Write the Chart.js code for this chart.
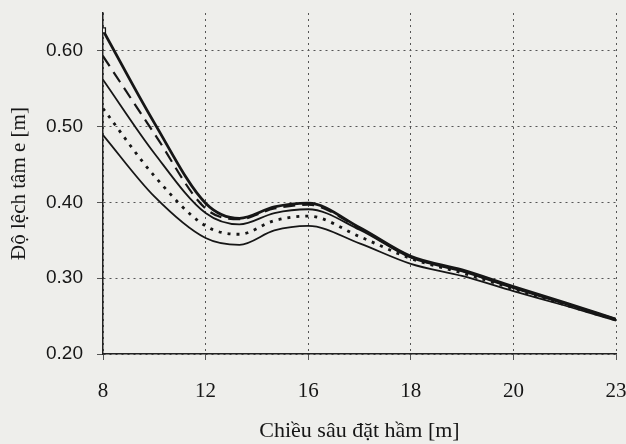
<!DOCTYPE html>
<html>
<head>
<meta charset="utf-8">
<script src="https://cdn.jsdelivr.net/npm/chart.js@4/dist/chart.umd.min.js"></script>
<style>
  html, body { margin: 0; padding: 0; background: #eeeeeb; }
</style>
</head>
<body>
<canvas id="chart" width="626" height="444"></canvas>
<script>
// Depth categories, drawn at equal spacing on the x axis
const depthLabels = ['8', '12', '16', '18', '20', '23'];
// Where each reading sits along the axis, in category steps (0 = 8 m, 5 = 23 m)
const samplePos = [0, 0.5, 1, 1.33, 1.67, 2, 2.5, 3, 3.5, 4, 4.5, 5];
const yTicks = [0.2, 0.3, 0.4, 0.5, 0.6];

// Eccentricity readings, top curve to bottom curve
const curveA = [0.627, 0.505, 0.399, 0.379, 0.394, 0.399, 0.367, 0.329, 0.311, 0.289, 0.268, 0.246];
const curveB = [0.593, 0.491, 0.392, 0.378, 0.392, 0.397, 0.366, 0.328, 0.310, 0.288, 0.267, 0.246];
const curveC = [0.562, 0.465, 0.386, 0.371, 0.386, 0.391, 0.364, 0.327, 0.309, 0.287, 0.266, 0.245];
const curveD = [0.524, 0.435, 0.369, 0.358, 0.376, 0.382, 0.355, 0.326, 0.307, 0.286, 0.265, 0.245];
const curveE = [0.489, 0.408, 0.353, 0.344, 0.363, 0.369, 0.346, 0.319, 0.303, 0.283, 0.264, 0.244];

const ink = '#161616';

function series(values, width, dash, extra) {
    return Object.assign({
        data: samplePos.map((x, i) => ({ x: x, y: values[i] })),
        borderColor: ink,
        borderWidth: width,
        borderDash: dash,
        pointRadius: 0,
        cubicInterpolationMode: 'monotone',
        fill: false
    }, extra || {});
}

const ctx = document.getElementById('chart').getContext('2d');
new Chart(ctx, {
    type: 'line',
    data: {
        datasets: [
            series(curveA, 2.8, [], {
                pointRadius: curveA.map((_, i) => i === 0 ? 3.5 : 0),
                pointStyle: 'rect',
                pointBackgroundColor: '#eeeeeb',
                pointBorderColor: ink,
                pointBorderWidth: 1.2
            }),
            series(curveB, 2.2, [12, 7]),
            series(curveC, 1.8, []),
            series(curveD, 2.8, [3, 6]),
            series(curveE, 1.8, [])
        ]
    },
    options: {
        responsive: false,
        animation: false,
        layout: { padding: { top: 13, right: 10, left: 0, bottom: 0 } },
        plugins: {
            legend: { display: false },
            tooltip: { enabled: false }
        },
        scales: {
            x: {
                type: 'linear',
                min: 0,
                max: depthLabels.length - 1,
                afterBuildTicks: s => { s.ticks = depthLabels.map((_, i) => ({ value: i })); },
                afterFit: s => { s.height = 90; s.paddingLeft = 0; s.paddingRight = 0; },
                ticks: {
                    callback: v => depthLabels[v],
                    font: { family: 'Liberation Serif', size: 21 },
                    color: ink,
                    padding: 19,
                    maxRotation: 0,
                    autoSkip: false
                },
                grid: { color: '#555', lineWidth: 1, tickLength: 6 },
                border: { color: '#222', width: 1.5, dash: [2, 4] },
                title: {
                    display: true,
                    text: 'Chiều sâu đặt hầm [m]',
                    font: { family: 'Liberation Serif', size: 22 },
                    color: ink,
                    padding: { top: 0, bottom: 0 }
                }
            },
            y: {
                min: 0.2,
                max: 0.65,
                afterBuildTicks: s => { s.ticks = yTicks.map(v => ({ value: v })); },
                afterFit: s => { s.width = 103; s.paddingTop = 0; s.paddingBottom = 0; },
                ticks: {
                    callback: v => v.toFixed(2),
                    font: { family: 'Liberation Sans', size: 19 },
                    color: ink,
                    padding: 14
                },
                grid: { color: '#555', lineWidth: 1, tickLength: 6 },
                border: { color: '#222', width: 1.5, dash: [2, 4] },
                title: {
                    display: true,
                    text: 'Độ lệch tâm e [m]',
                    font: { family: 'Liberation Serif', size: 21 },
                    color: ink,
                    padding: { top: 7, bottom: 7 }
                }
            }
        }
    }
});
</script>
</body>
</html>
